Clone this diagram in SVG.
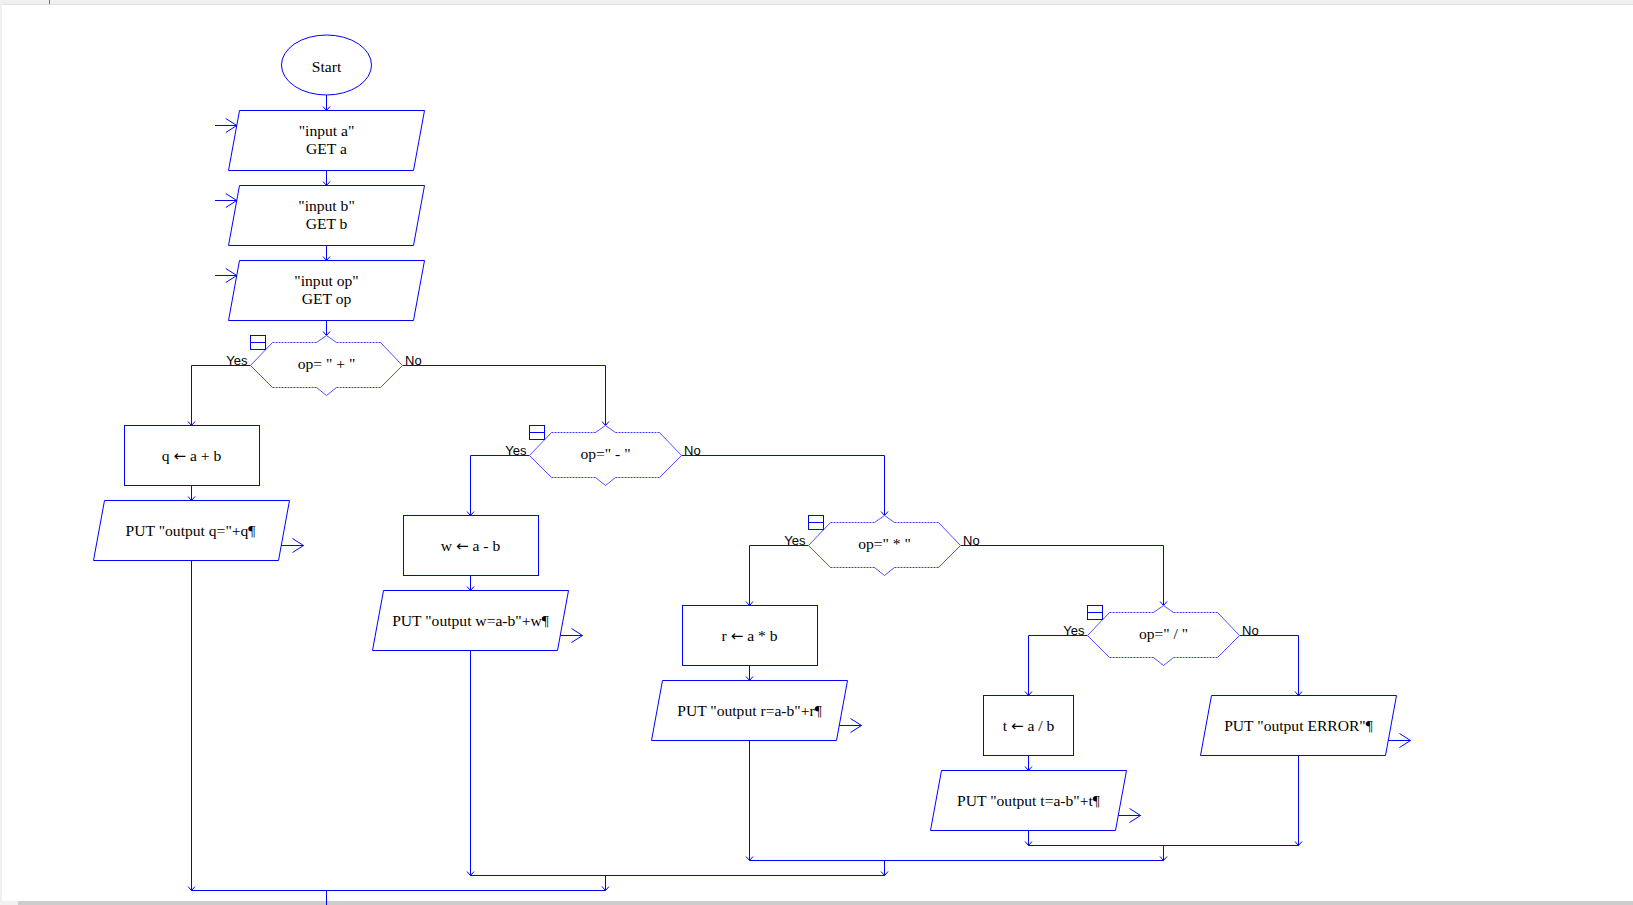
<svg xmlns="http://www.w3.org/2000/svg" xmlns:xlink="http://www.w3.org/1999/xlink" width="1633" height="905" viewBox="0 0 1633 905">
<style>
.ln{fill:none;stroke:#0000ff;stroke-width:1}
.shp{fill:#ffffff;stroke:#0000ff;stroke-width:1}
.t{font-family:"Liberation Serif","Times New Roman",serif;font-size:15.6px;fill:#000000;text-anchor:middle}
.ar{font-family:"DejaVu Sans","Liberation Sans",sans-serif;font-size:15px}
.lbl{font-family:"Liberation Sans",Arial,sans-serif;font-size:13px;fill:#000000}
.dash{fill:none;stroke:#3c3cff;stroke-width:1;stroke-dasharray:2 1}
.diag{fill:none;stroke:#5050ff;stroke-width:1}
.icon{fill:#ffffff;stroke:#0000ff;stroke-width:1}
</style>
<defs>
<marker id="sm" markerUnits="userSpaceOnUse" viewBox="-6 -5 7 10" refX="0" refY="0" markerWidth="7" markerHeight="10" orient="auto" overflow="visible">
<path d="M-4,-3.5 L0,0 L-4,3.5" fill="none" stroke="#0000ff" stroke-width="1"/>
</marker>
<marker id="big" markerUnits="userSpaceOnUse" viewBox="-12 -8 13 16" refX="0" refY="0" markerWidth="13" markerHeight="16" orient="auto" overflow="visible">
<path d="M-11,-7 L0,0 L-11,7" fill="none" stroke="#0000ff" stroke-width="1"/>
</marker>
<path id="para" class="shp" d="M-87,0 H98 L87,60 H-98 Z"/>
<rect id="box" class="shp" x="-67" y="0" width="135" height="60"/>
<g id="hex">
<path d="M-76,0 L-54,-23 H-10 L0,-30 L10,-23 H54 L76,0 L54,22 H10 L0,30 L-10,22 H-54 Z" fill="#ffffff" stroke="none"/>
<path class="dash" d="M-54,-23 H-10 M10,-23 H54 M-54,22 H-10 M10,22 H54"/>
<path class="diag" d="M-54,-23 L-76,0 L-54,22 M54,-23 L76,0 L54,22 M-10,-23 L0,-30 L10,-23 M-10,22 L0,30 L10,22"/>
<rect class="icon" x="-76" y="-30" width="15" height="14"/>
<path class="ln" d="M-76,-23 H-61"/>
</g>
<path id="inarrow" class="ln" d="M-111.5,15 H-89.75" marker-end="url(#big)"/>
<path id="outarrow" class="ln" d="M89.75,45 H112" marker-end="url(#big)"/>
</defs>

<rect x="0" y="0" width="1633" height="905" fill="#ffffff"/>
<rect x="0" y="0" width="1633" height="4" fill="#f0f0f0"/>
<rect x="0" y="4" width="1633" height="1" fill="#e3e3e3"/>
<rect x="49" y="0" width="1" height="4" fill="#707070"/>
<rect x="0" y="0" width="2" height="905" fill="#f0f0f0"/>
<rect x="0" y="901" width="1633" height="4" fill="#f0f0f0"/>
<rect x="18" y="901" width="1615" height="4" fill="#cdcdcd"/>

<g id="connectors">
<path class="ln" d="M326.5,95 V110.5" marker-end="url(#sm)"/>
<path class="ln" d="M326.5,170.5 V185.5" marker-end="url(#sm)"/>
<path class="ln" d="M326.5,245.5 V260.5" marker-end="url(#sm)"/>
<path class="ln" d="M326.5,320.5 V335.5" marker-end="url(#sm)"/>
<path class="ln" d="M250.5,365.5 H191.5 V425.5" marker-end="url(#sm)"/>
<path class="ln" d="M402.5,365.5 H605.5 V425.5" marker-end="url(#sm)"/>
<path class="ln" d="M191.5,485.5 V500.5" marker-end="url(#sm)"/>
<path class="ln" d="M529.5,455.5 H470.5 V515.5" marker-end="url(#sm)"/>
<path class="ln" d="M681.5,455.5 H884.5 V515.5" marker-end="url(#sm)"/>
<path class="ln" d="M470.5,575.5 V590.5" marker-end="url(#sm)"/>
<path class="ln" d="M808.5,545.5 H749.5 V605.5" marker-end="url(#sm)"/>
<path class="ln" d="M960.5,545.5 H1163.5 V605.5" marker-end="url(#sm)"/>
<path class="ln" d="M749.5,665.5 V680.5" marker-end="url(#sm)"/>
<path class="ln" d="M1087.5,635.5 H1028.5 V695.5" marker-end="url(#sm)"/>
<path class="ln" d="M1239.5,635.5 H1298.5 V695.5" marker-end="url(#sm)"/>
<path class="ln" d="M1028.5,755.5 V770.5" marker-end="url(#sm)"/>
<path class="ln" d="M1028.5,830.5 V845.5" marker-end="url(#sm)"/>
<path class="ln" d="M1298.5,755.5 V845.5" marker-end="url(#sm)"/>
<path class="ln" d="M1028.5,845.5 H1298.5"/>
<path class="ln" d="M1163.5,845.5 V860.5" marker-end="url(#sm)"/>
<path class="ln" d="M749.5,740.5 V860.5" marker-end="url(#sm)"/>
<path class="ln" d="M749.5,860.5 H1163.5"/>
<path class="ln" d="M884.5,860.5 V875.5" marker-end="url(#sm)"/>
<path class="ln" d="M470.5,650.5 V875.5" marker-end="url(#sm)"/>
<path class="ln" d="M470.5,875.5 H884.5"/>
<path class="ln" d="M605.5,875.5 V890.5" marker-end="url(#sm)"/>
<path class="ln" d="M191.5,560.5 V890.5" marker-end="url(#sm)"/>
<path class="ln" d="M191.5,890.5 H605.5"/>
<path class="ln" d="M326.5,890.5 V905"/>
</g>

<g id="start">
<ellipse class="shp" cx="326.5" cy="65" rx="45" ry="30"/>
<text class="t" x="326.5" y="72">Start</text>
</g>

<g id="input_a" transform="translate(326.5,110.5)">
<use xlink:href="#para" href="#para"/>
<use xlink:href="#inarrow" href="#inarrow"/>
<text class="t" x="0" y="25.5">"input a"</text>
<text class="t" x="0" y="43">GET a</text>
</g>
<g id="input_b" transform="translate(326.5,185.5)">
<use xlink:href="#para" href="#para"/>
<use xlink:href="#inarrow" href="#inarrow"/>
<text class="t" x="0" y="25.5">"input b"</text>
<text class="t" x="0" y="43">GET b</text>
</g>
<g id="input_op" transform="translate(326.5,260.5)">
<use xlink:href="#para" href="#para"/>
<use xlink:href="#inarrow" href="#inarrow"/>
<text class="t" x="0" y="25.5">"input op"</text>
<text class="t" x="0" y="43">GET op</text>
</g>

<g id="dec_plus" transform="translate(326.5,365.5)">
<use xlink:href="#hex" href="#hex"/>
<text class="t" x="0" y="3.5">op= " + "</text>
<text class="lbl" x="-79" y="-0.5" text-anchor="end">Yes</text>
<text class="lbl" x="78.5" y="-0.5">No</text>
</g>
<g id="dec_minus" transform="translate(605.5,455.5)">
<use xlink:href="#hex" href="#hex"/>
<text class="t" x="0" y="3.5">op=" - "</text>
<text class="lbl" x="-79" y="-0.5" text-anchor="end">Yes</text>
<text class="lbl" x="78.5" y="-0.5">No</text>
</g>
<g id="dec_mul" transform="translate(884.5,545.5)">
<use xlink:href="#hex" href="#hex"/>
<text class="t" x="0" y="3.5">op=" * "</text>
<text class="lbl" x="-79" y="-0.5" text-anchor="end">Yes</text>
<text class="lbl" x="78.5" y="-0.5">No</text>
</g>
<g id="dec_div" transform="translate(1163.5,635.5)">
<use xlink:href="#hex" href="#hex"/>
<text class="t" x="0" y="3.5">op=" / "</text>
<text class="lbl" x="-79" y="-0.5" text-anchor="end">Yes</text>
<text class="lbl" x="78.5" y="-0.5">No</text>
</g>

<g id="assign_q" transform="translate(191.5,425.5)">
<use xlink:href="#box" href="#box"/>
<text class="t" x="0" y="35.5">q <tspan class="ar">←</tspan> a + b</text>
</g>
<g id="put_q" transform="translate(191.5,500.5)">
<use xlink:href="#para" href="#para"/>
<use xlink:href="#outarrow" href="#outarrow"/>
<text class="t" x="-1" y="35">PUT "output q="+q¶</text>
</g>

<g id="assign_w" transform="translate(470.5,515.5)">
<use xlink:href="#box" href="#box"/>
<text class="t" x="0" y="35.5">w <tspan class="ar">←</tspan> a - b</text>
</g>
<g id="put_w" transform="translate(470.5,590.5)">
<use xlink:href="#para" href="#para"/>
<use xlink:href="#outarrow" href="#outarrow"/>
<text class="t" x="0" y="35">PUT "output w=a-b"+w¶</text>
</g>

<g id="assign_r" transform="translate(749.5,605.5)">
<use xlink:href="#box" href="#box"/>
<text class="t" x="0" y="35.5">r <tspan class="ar">←</tspan> a * b</text>
</g>
<g id="put_r" transform="translate(749.5,680.5)">
<use xlink:href="#para" href="#para"/>
<use xlink:href="#outarrow" href="#outarrow"/>
<text class="t" x="0" y="35">PUT "output r=a-b"+r¶</text>
</g>

<g id="assign_t" transform="translate(1028.5,695.5)">
<rect class="shp" x="-45" y="0" width="90" height="60"/>
<text class="t" x="0" y="35.5">t <tspan class="ar">←</tspan> a / b</text>
</g>
<g id="put_t" transform="translate(1028.5,770.5)">
<use xlink:href="#para" href="#para"/>
<use xlink:href="#outarrow" href="#outarrow"/>
<text class="t" x="0" y="35">PUT "output t=a-b"+t¶</text>
</g>

<g id="put_error" transform="translate(1298.5,695.5)">
<use xlink:href="#para" href="#para"/>
<use xlink:href="#outarrow" href="#outarrow"/>
<text class="t" x="0" y="35">PUT "output ERROR"¶</text>
</g>
</svg>
